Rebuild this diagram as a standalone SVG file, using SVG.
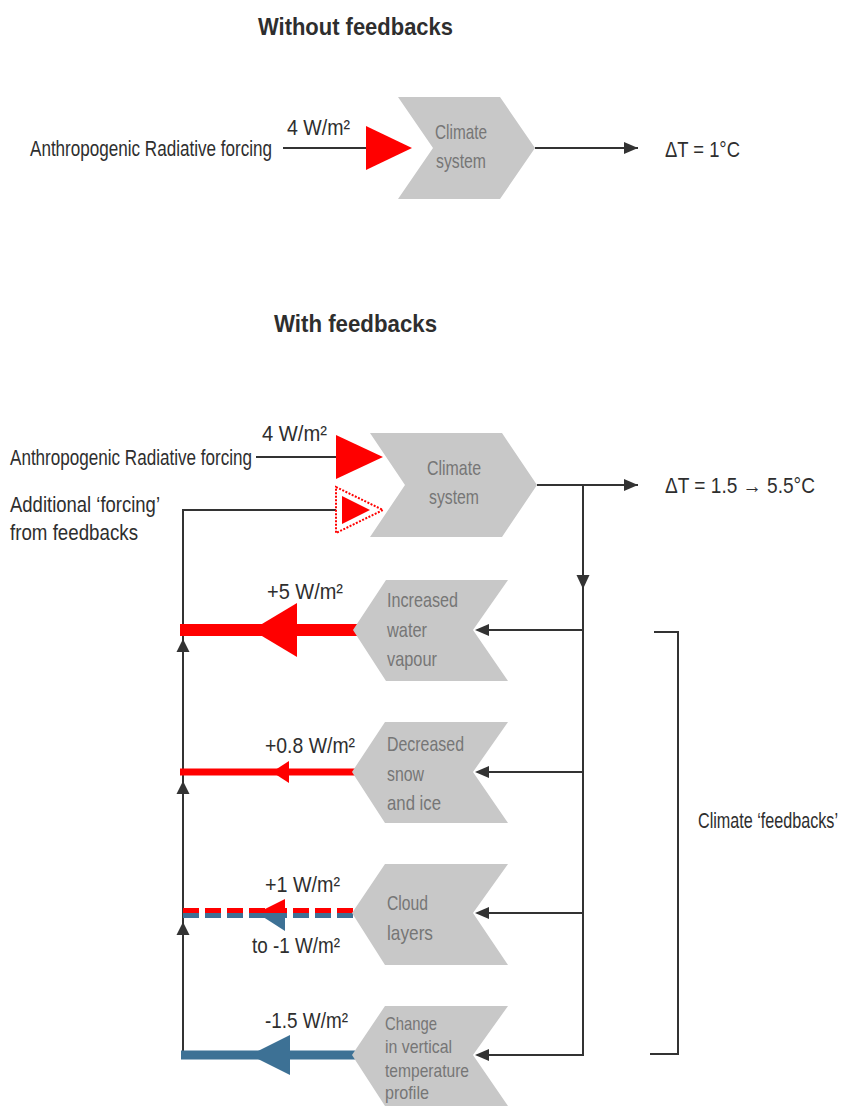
<svg xmlns="http://www.w3.org/2000/svg" width="848" height="1106" viewBox="0 0 848 1106">
<defs>
<style>
.t{font-family:"Liberation Sans Narrow","Liberation Sans",Arial,sans-serif;fill:#2e2e2e;font-size:22px}
.title{font-weight:bold;font-size:24px}
.c{font-family:"Liberation Sans Narrow","Liberation Sans",Arial,sans-serif;fill:#767676;font-size:21px}
.chev{fill:#c8c8c8}
.ln{stroke:#333;stroke-width:2;fill:none}
.ah{fill:#333}
.red{fill:#ff0000}
.blue{fill:#3d7195}
</style>
<marker id="arr" markerUnits="userSpaceOnUse" markerWidth="16" markerHeight="14" refX="14" refY="6" orient="auto">
<path d="M0,0 L14,6 L0,12 Z" fill="#333"/>
</marker>
</defs>
<rect width="848" height="1106" fill="#fff"/>

<text class="t title" x="258" y="35" textLength="195" lengthAdjust="spacingAndGlyphs">Without feedbacks</text>
<text class="t title" x="274" y="332" textLength="163" lengthAdjust="spacingAndGlyphs">With feedbacks</text>

<g id="connectors">
<line class="ln" x1="283" y1="148" x2="366" y2="148"/>
<line class="ln" x1="535" y1="148" x2="638" y2="148" marker-end="url(#arr)"/>
<line class="ln" x1="256" y1="457" x2="336" y2="457"/>
<line class="ln" x1="537" y1="485" x2="638" y2="485" marker-end="url(#arr)"/>
<polyline class="ln" points="336,510 183,510 183,1055"/>
<line class="ln" x1="583" y1="485" x2="583" y2="1055"/>
<polygon class="ah" points="576.5,575 589.5,575 583,589"/>
<line class="ln" x1="583" y1="630" x2="488" y2="630"/>
<polygon class="ah" points="475,630 489,624 489,636"/>
<line class="ln" x1="583" y1="772" x2="488" y2="772"/>
<polygon class="ah" points="475,772 489,766 489,778"/>
<line class="ln" x1="583" y1="913" x2="488" y2="913"/>
<polygon class="ah" points="475,913 489,907 489,919"/>
<line class="ln" x1="584" y1="1055" x2="488" y2="1055"/>
<polygon class="ah" points="475,1055 489,1049 489,1061"/>
<polygon class="ah" points="176.5,652 183,639 189.5,652"/>
<polygon class="ah" points="176.5,794 183,781 189.5,794"/>
<polygon class="ah" points="176.5,935 183,922 189.5,935"/>
<line x1="180" y1="630" x2="358" y2="630" stroke="#ff0000" stroke-width="12"/>
<polygon class="red" points="252,630 297,603 297,657"/>
<line x1="180" y1="772" x2="358" y2="772" stroke="#ff0000" stroke-width="7"/>
<polygon class="red" points="272,772 289,761 289,783"/>
<line x1="183" y1="910.5" x2="353" y2="910.5" stroke="#ff0000" stroke-width="5" stroke-dasharray="16 6"/>
<line x1="183" y1="915.5" x2="353" y2="915.5" stroke="#3d7195" stroke-width="5" stroke-dasharray="16 6"/>
<polygon class="red" points="257,913 285,899 285,913"/>
<polygon class="blue" points="257,913 285,913 285,931"/>
<line x1="181" y1="1055" x2="355" y2="1055" stroke="#3d7195" stroke-width="9"/>
<polygon class="blue" points="250,1055 290,1035 290,1075"/>
<polyline class="ln" points="654,632 678,632 678,1054 650,1054"/>
</g>

<g id="forcing-top">
<text class="t" x="30" y="156" textLength="242" lengthAdjust="spacingAndGlyphs">Anthropogenic Radiative forcing</text>
<text class="t" x="287" y="135" textLength="63" lengthAdjust="spacingAndGlyphs">4 W/m²</text>
<polygon class="red" points="366,126 412,148 366,170"/>
</g>

<g id="climate-top">
<polygon class="chev" points="398,97 500,97 535,148 500,199 398,199 433,148"/>
<text class="c" x="461" y="139" text-anchor="middle" textLength="52" lengthAdjust="spacingAndGlyphs">Climate</text>
<text class="c" x="461" y="168" text-anchor="middle" textLength="50" lengthAdjust="spacingAndGlyphs">system</text>
</g>

<g id="dt-top">
<text class="t" x="665" y="157" textLength="75" lengthAdjust="spacingAndGlyphs">ΔT = 1°C</text>
</g>

<g id="forcing-bottom">
<text class="t" x="10" y="465" textLength="242" lengthAdjust="spacingAndGlyphs">Anthropogenic Radiative forcing</text>
<text class="t" x="262" y="441" textLength="65" lengthAdjust="spacingAndGlyphs">4 W/m²</text>
<polygon class="red" points="336,435 383,457 336,479"/>
</g>

<g id="additional-forcing">
<text class="t" x="10" y="512" textLength="150" lengthAdjust="spacingAndGlyphs">Additional ‘forcing’</text>
<text class="t" x="10" y="540" textLength="128" lengthAdjust="spacingAndGlyphs">from feedbacks</text>
<polygon points="336,487 383,510 336,533" fill="none" stroke="#ff0000" stroke-width="2" stroke-dasharray="2 1.5"/>
<polygon class="red" points="342,496 370,510 342,524"/>
</g>

<g id="climate-bottom">
<polygon class="chev" points="370,433 502,433 537,485 502,537 370,537 405,485"/>
<text class="c" x="454" y="475" text-anchor="middle" textLength="54" lengthAdjust="spacingAndGlyphs">Climate</text>
<text class="c" x="454" y="504" text-anchor="middle" textLength="50" lengthAdjust="spacingAndGlyphs">system</text>
</g>

<g id="dt-bottom">
<text class="t" x="665" y="493" textLength="150" lengthAdjust="spacingAndGlyphs">ΔT = 1.5 → 5.5°C</text>
</g>

<g id="water-vapour">
<polygon class="chev" points="353,630 386,580 508,580 473,630 508,681 386,681"/>
<text class="c" x="387" y="607" textLength="71" lengthAdjust="spacingAndGlyphs">Increased</text>
<text class="c" x="387" y="637" textLength="40" lengthAdjust="spacingAndGlyphs">water</text>
<text class="c" x="387" y="666" textLength="50" lengthAdjust="spacingAndGlyphs">vapour</text>
<text class="t" x="267" y="599" textLength="76" lengthAdjust="spacingAndGlyphs">+5 W/m²</text>
</g>

<g id="snow-ice">
<polygon class="chev" points="352,772 385,722 508,722 473,772 508,823 385,823"/>
<text class="c" x="387" y="751" textLength="77" lengthAdjust="spacingAndGlyphs">Decreased</text>
<text class="c" x="387" y="781" textLength="37" lengthAdjust="spacingAndGlyphs">snow</text>
<text class="c" x="387" y="810" textLength="54" lengthAdjust="spacingAndGlyphs">and ice</text>
<text class="t" x="265" y="753" textLength="90" lengthAdjust="spacingAndGlyphs">+0.8 W/m²</text>
</g>

<g id="cloud-layers">
<polygon class="chev" points="352,913 385,864 508,864 473,913 508,965 385,965"/>
<text class="c" x="387" y="910" textLength="41" lengthAdjust="spacingAndGlyphs">Cloud</text>
<text class="c" x="387" y="940" textLength="46" lengthAdjust="spacingAndGlyphs">layers</text>
<text class="t" x="265" y="892" textLength="75" lengthAdjust="spacingAndGlyphs">+1 W/m²</text>
<text class="t" x="252" y="953" textLength="88" lengthAdjust="spacingAndGlyphs">to -1 W/m²</text>
</g>

<g id="vertical-temperature">
<polygon class="chev" points="352,1055 385,1006 508,1006 473,1055 508,1106 385,1106"/>
<text class="c" x="385" y="1030" style="font-size:19px" textLength="52" lengthAdjust="spacingAndGlyphs">Change</text>
<text class="c" x="385" y="1053" style="font-size:19px" textLength="67" lengthAdjust="spacingAndGlyphs">in vertical</text>
<text class="c" x="385" y="1077" style="font-size:19px" textLength="84" lengthAdjust="spacingAndGlyphs">temperature</text>
<text class="c" x="385" y="1099" style="font-size:19px" textLength="44" lengthAdjust="spacingAndGlyphs">profile</text>
<text class="t" x="265" y="1028" textLength="83" lengthAdjust="spacingAndGlyphs">-1.5 W/m²</text>
</g>

<g id="feedbacks-label">
<text class="t" x="698" y="828" textLength="140" lengthAdjust="spacingAndGlyphs">Climate ‘feedbacks’</text>
</g>
</svg>
